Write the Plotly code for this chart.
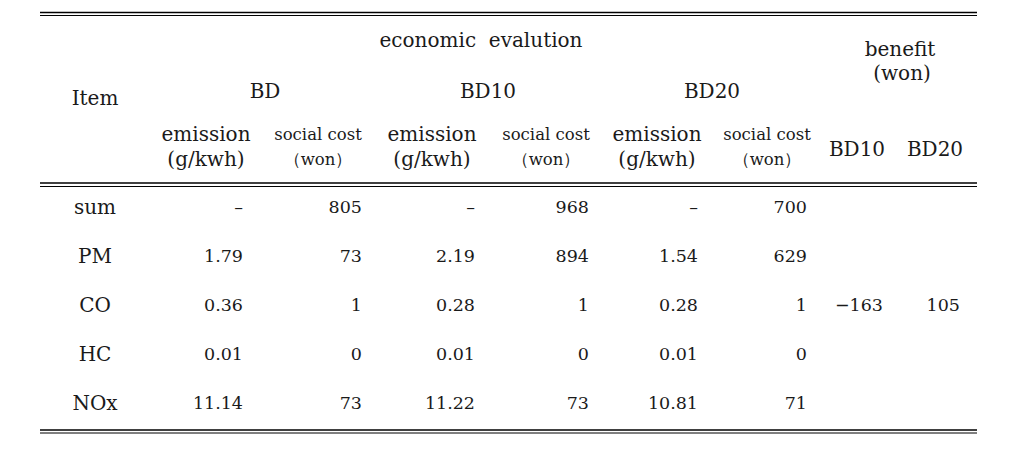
import plotly.graph_objects as go

# ---------------- data ----------------
items = ["sum", "PM", "CO", "HC", "NOx"]
bd_emission = [None, 1.79, 0.36, 0.01, 11.14]
bd_social = [805, 73, 1, 0, 73]
bd10_emission = [None, 2.19, 0.28, 0.01, 11.22]
bd10_social = [968, 894, 1, 0, 73]
bd20_emission = [None, 1.54, 0.28, 0.01, 10.81]
bd20_social = [700, 629, 1, 0, 71]
benefit_bd10 = [-163]
benefit_bd20 = [105]
benefit_row = "CO"

group_title = "economic  evalution"
group_labels = ["BD", "BD10", "BD20"]
sub_labels = [("emission", "(g/kwh)"), ("social cost", "（won）")]
benefit_title = ["benefit", "(won)"]
benefit_labels = ["BD10", "BD20"]
item_label = "Item"

# ---------------- layout constants ----------------
W, H = 1013, 450
FONT = "'DejaVu Serif', serif"
TXT = "#1a1a1a"
HEAD_SIZE = 20
NUM_SIZE = 17.5
SOC_SIZE = 16.5

row_y = [209, 258, 307, 356, 405]
item_x = 95
value_right_x = [243, 362, 475, 589, 698, 807]
benefit_right_x = [883, 960]
group_x = [265, 488, 712]
sub_x = [206, 318, 432, 546, 657, 767]
benefit_hdr_x = [857, 935]

def fmt_em(v):
    return "–" if v is None else f"{v:.2f}"

def fmt_int(v):
    return "–" if v is None else (f"−{abs(v)}" if v < 0 else str(v))

fig = go.Figure()

def text_trace(xs, ys, texts, pos, size, color=TXT, font=FONT):
    fig.add_trace(go.Scatter(
        x=xs, y=ys, text=texts, mode="text", textposition=pos,
        textfont=dict(family=font, size=size, color=color),
        hoverinfo="skip", showlegend=False, cliponaxis=False))

# header texts
text_trace([481], [42], [group_title], "middle center", HEAD_SIZE)
text_trace([900, 902], [51, 75], benefit_title, "middle center", HEAD_SIZE)
text_trace([item_x], [100], [item_label], "middle center", HEAD_SIZE)
text_trace(group_x, [93] * 3, group_labels, "middle center", HEAD_SIZE)

for i, x in enumerate(sub_x):
    top, bot = sub_labels[i % 2]
    sz = HEAD_SIZE if i % 2 == 0 else SOC_SIZE
    text_trace([x], [136], [top], "middle center", sz)
    text_trace([x], [161], [bot], "middle center", sz)

text_trace(benefit_hdr_x, [151, 151], benefit_labels, "middle center", HEAD_SIZE)

# body
text_trace([item_x] * len(items), row_y, items, "middle center", HEAD_SIZE)
cols = [
    [fmt_em(v) for v in bd_emission],
    [fmt_int(v) for v in bd_social],
    [fmt_em(v) for v in bd10_emission],
    [fmt_int(v) for v in bd10_social],
    [fmt_em(v) for v in bd20_emission],
    [fmt_int(v) for v in bd20_social],
]
for x, col in zip(value_right_x, cols):
    text_trace([x] * len(col), row_y, col, "middle left", NUM_SIZE)

by = row_y[items.index(benefit_row)]
text_trace([benefit_right_x[0]], [by], [fmt_int(v) for v in benefit_bd10], "middle left", NUM_SIZE)
text_trace([benefit_right_x[1]], [by], [fmt_int(v) for v in benefit_bd20], "middle left", NUM_SIZE)

# rules (double lines)
x0, x1 = 40, 977
rules = [(12.5, 1.6), (15.5, 1.0), (183, 1.6), (186.5, 1.0), (430, 1.6), (433, 1.0)]
for y, w in rules:
    fig.add_shape(type="line", x0=x0, x1=x1, y0=y, y1=y, xref="x", yref="y",
                  line=dict(color="#000000", width=w))

fig.update_layout(
    width=W, height=H,
    margin=dict(l=0, r=0, t=0, b=0),
    paper_bgcolor="white", plot_bgcolor="white",
    xaxis=dict(range=[0, W], visible=False, fixedrange=True),
    yaxis=dict(range=[H, 0], visible=False, fixedrange=True),
    hovermode=False,
)

fig.write_html("out.html", config={"displayModeBar": False, "staticPlot": True},
               post_script="document.body.style.margin='0px';")
